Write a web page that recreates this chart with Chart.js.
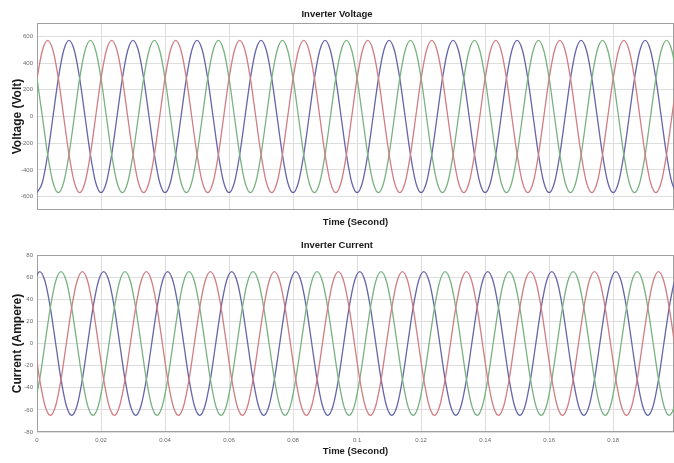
<!DOCTYPE html>
<html><head><meta charset="utf-8">
<script src="https://cdn.jsdelivr.net/npm/chart.js@4.4.0/dist/chart.umd.min.js"></script>
<style>
html,body{margin:0;padding:0;background:#fff;overflow:hidden;}
#w1{position:absolute;left:0;top:0;width:674px;height:230px;}
#w2{position:absolute;left:0;top:230px;width:674px;height:233px;}
</style></head><body>
<div id="w1"><canvas id="c1"></canvas></div>
<div id="w2"><canvas id="c2"></canvas></div>
<script>
// ---- Inverter voltage: sample times (s) and phase values (V)
const tV = [
0,0.00167,0.00333,0.005,0.00667,0.00833,0.01,0.01167,0.01333,0.015,0.01667,0.01833,
0.02,0.02167,0.02333,0.025,0.02667,0.02833,0.03,0.03167,0.03333,0.035,0.03667,0.03833,
0.04,0.04167,0.04333,0.045,0.04667,0.04833,0.05,0.05167,0.05333,0.055,0.05667,0.05833,
0.06,0.06167,0.06333,0.065,0.06667,0.06833,0.07,0.07167,0.07333,0.075,0.07667,0.07833,
0.08,0.08167,0.08333,0.085,0.08667,0.08833,0.09,0.09167,0.09333,0.095,0.09667,0.09833,
0.1,0.10167,0.10333,0.105,0.10667,0.10833,0.11,0.11167,0.11333,0.115,0.11667,0.11833,
0.12,0.12167,0.12333,0.125,0.12667,0.12833,0.13,0.13167,0.13333,0.135,0.13667,0.13833,
0.14,0.14167,0.14333,0.145,0.14667,0.14833,0.15,0.15167,0.15333,0.155,0.15667,0.15833,
0.16,0.16167,0.16333,0.165,0.16667,0.16833,0.17,0.17167,0.17333,0.175,0.17667,0.17833,
0.18,0.18167,0.18333,0.185,0.18667,0.18833,0.19,0.19167,0.19333,0.195,0.19667,0.19833,
0.2];
const vRed = [
285,494,570,494,285,0,-285,-494,-570,-494,-285,0,
285,494,570,494,285,0,-285,-494,-570,-494,-285,0,
285,494,570,494,285,0,-285,-494,-570,-494,-285,0,
285,494,570,494,285,0,-285,-494,-570,-494,-285,0,
285,494,570,494,285,0,-285,-494,-570,-494,-285,0,
285,494,570,494,285,0,-285,-494,-570,-494,-285,0,
285,494,570,494,285,0,-285,-494,-570,-494,-285,0,
285,494,570,494,285,0,-285,-494,-570,-494,-285,0,
285,494,570,494,285,0,-285,-494,-570,-494,-285,0,
285,494,570,494,285,0,-285,-494,-570,-494,-285,0,
285];
const vBlue = [
-570,-494,-285,0,285,494,570,494,285,0,-285,-494,
-570,-494,-285,0,285,494,570,494,285,0,-285,-494,
-570,-494,-285,0,285,494,570,494,285,0,-285,-494,
-570,-494,-285,0,285,494,570,494,285,0,-285,-494,
-570,-494,-285,0,285,494,570,494,285,0,-285,-494,
-570,-494,-285,0,285,494,570,494,285,0,-285,-494,
-570,-494,-285,0,285,494,570,494,285,0,-285,-494,
-570,-494,-285,0,285,494,570,494,285,0,-285,-494,
-570,-494,-285,0,285,494,570,494,285,0,-285,-494,
-570,-494,-285,0,285,494,570,494,285,0,-285,-494,
-570];
const vGreen = [
285,0,-285,-494,-570,-494,-285,0,285,494,570,494,
285,0,-285,-494,-570,-494,-285,0,285,494,570,494,
285,0,-285,-494,-570,-494,-285,0,285,494,570,494,
285,0,-285,-494,-570,-494,-285,0,285,494,570,494,
285,0,-285,-494,-570,-494,-285,0,285,494,570,494,
285,0,-285,-494,-570,-494,-285,0,285,494,570,494,
285,0,-285,-494,-570,-494,-285,0,285,494,570,494,
285,0,-285,-494,-570,-494,-285,0,285,494,570,494,
285,0,-285,-494,-570,-494,-285,0,285,494,570,494,
285,0,-285,-494,-570,-494,-285,0,285,494,570,494,
285];

// ---- Inverter current: sample times (s) and phase values (A)
const tI = [-0.00083,
0.00083,0.0025,0.00417,0.00583,0.0075,0.00917,0.01083,0.0125,0.01417,0.01583,0.0175,0.01917,
0.02083,0.0225,0.02417,0.02583,0.0275,0.02917,0.03083,0.0325,0.03417,0.03583,0.0375,0.03917,
0.04083,0.0425,0.04417,0.04583,0.0475,0.04917,0.05083,0.0525,0.05417,0.05583,0.0575,0.05917,
0.06083,0.0625,0.06417,0.06583,0.0675,0.06917,0.07083,0.0725,0.07417,0.07583,0.0775,0.07917,
0.08083,0.0825,0.08417,0.08583,0.0875,0.08917,0.09083,0.0925,0.09417,0.09583,0.0975,0.09917,
0.10083,0.1025,0.10417,0.10583,0.1075,0.10917,0.11083,0.1125,0.11417,0.11583,0.1175,0.11917,
0.12083,0.1225,0.12417,0.12583,0.1275,0.12917,0.13083,0.1325,0.13417,0.13583,0.1375,0.13917,
0.14083,0.1425,0.14417,0.14583,0.1475,0.14917,0.15083,0.1525,0.15417,0.15583,0.1575,0.15917,
0.16083,0.1625,0.16417,0.16583,0.1675,0.16917,0.17083,0.1725,0.17417,0.17583,0.1775,0.17917,
0.18083,0.1825,0.18417,0.18583,0.1875,0.18917,0.19083,0.1925,0.19417,0.19583,0.1975,0.19917,
0.20083];
const iBlue = [56.3,
65,56.3,32.5,0,-32.5,-56.3,-65,-56.3,-32.5,0,32.5,56.3,
65,56.3,32.5,0,-32.5,-56.3,-65,-56.3,-32.5,0,32.5,56.3,
65,56.3,32.5,0,-32.5,-56.3,-65,-56.3,-32.5,0,32.5,56.3,
65,56.3,32.5,0,-32.5,-56.3,-65,-56.3,-32.5,0,32.5,56.3,
65,56.3,32.5,0,-32.5,-56.3,-65,-56.3,-32.5,0,32.5,56.3,
65,56.3,32.5,0,-32.5,-56.3,-65,-56.3,-32.5,0,32.5,56.3,
65,56.3,32.5,0,-32.5,-56.3,-65,-56.3,-32.5,0,32.5,56.3,
65,56.3,32.5,0,-32.5,-56.3,-65,-56.3,-32.5,0,32.5,56.3,
65,56.3,32.5,0,-32.5,-56.3,-65,-56.3,-32.5,0,32.5,56.3,
65,56.3,32.5,0,-32.5,-56.3,-65,-56.3,-32.5,0,32.5,56.3,
65];
const iGreen = [-56.3,
-32.5,0,32.5,56.3,65,56.3,32.5,0,-32.5,-56.3,-65,-56.3,
-32.5,0,32.5,56.3,65,56.3,32.5,0,-32.5,-56.3,-65,-56.3,
-32.5,0,32.5,56.3,65,56.3,32.5,0,-32.5,-56.3,-65,-56.3,
-32.5,0,32.5,56.3,65,56.3,32.5,0,-32.5,-56.3,-65,-56.3,
-32.5,0,32.5,56.3,65,56.3,32.5,0,-32.5,-56.3,-65,-56.3,
-32.5,0,32.5,56.3,65,56.3,32.5,0,-32.5,-56.3,-65,-56.3,
-32.5,0,32.5,56.3,65,56.3,32.5,0,-32.5,-56.3,-65,-56.3,
-32.5,0,32.5,56.3,65,56.3,32.5,0,-32.5,-56.3,-65,-56.3,
-32.5,0,32.5,56.3,65,56.3,32.5,0,-32.5,-56.3,-65,-56.3,
-32.5,0,32.5,56.3,65,56.3,32.5,0,-32.5,-56.3,-65,-56.3,
-32.5];
const iRed = [0,
-32.5,-56.3,-65,-56.3,-32.5,0,32.5,56.3,65,56.3,32.5,0,
-32.5,-56.3,-65,-56.3,-32.5,0,32.5,56.3,65,56.3,32.5,0,
-32.5,-56.3,-65,-56.3,-32.5,0,32.5,56.3,65,56.3,32.5,0,
-32.5,-56.3,-65,-56.3,-32.5,0,32.5,56.3,65,56.3,32.5,0,
-32.5,-56.3,-65,-56.3,-32.5,0,32.5,56.3,65,56.3,32.5,0,
-32.5,-56.3,-65,-56.3,-32.5,0,32.5,56.3,65,56.3,32.5,0,
-32.5,-56.3,-65,-56.3,-32.5,0,32.5,56.3,65,56.3,32.5,0,
-32.5,-56.3,-65,-56.3,-32.5,0,32.5,56.3,65,56.3,32.5,0,
-32.5,-56.3,-65,-56.3,-32.5,0,32.5,56.3,65,56.3,32.5,0,
-32.5,-56.3,-65,-56.3,-32.5,0,32.5,56.3,65,56.3,32.5,0,
-32.5];

// ---- axis ticks
const xTicks = [0,0.02,0.04,0.06,0.08,0.1,0.12,0.14,0.16,0.18];
const xTickLabels = ['0','0.02','0.04','0.06','0.08','0.1','0.12','0.14','0.16','0.18'];
const yTicksV = [-600,-400,-200,0,200,400,600];
const yTicksI = [-80,-60,-40,-20,0,20,40,60,80];

const RED = 'rgb(208,126,132)', BLUE = 'rgb(102,102,168)', GREEN = 'rgb(122,178,128)';
const SANS = "'Liberation Sans',Arial,sans-serif";
const GRID = '#dedede';

const framePlugin = {
  id: 'frame',
  beforeDatasetsDraw(chart) {
    const {ctx, chartArea: a} = chart;
    ctx.save();
    ctx.strokeStyle = '#a0a0a0';
    ctx.lineWidth = 1;
    ctx.strokeRect(a.left + 0.5, a.top + 0.5, a.right - a.left - 1, a.bottom - a.top - 1);
    ctx.restore();
  }
};

function ds(t, v, color) {
  return {
    data: t.map((x, i) => ({x: x, y: v[i]})),
    borderColor: color, borderWidth: 1.3, pointRadius: 0,
    cubicInterpolationMode: 'monotone', fill: false
  };
}

function makeChart(id, cfg) {
  return new Chart(document.getElementById(id), {
    type: 'line',
    data: {datasets: cfg.datasets},
    plugins: [framePlugin],
    options: {
      responsive: true, maintainAspectRatio: false, animation: false,
      layout: {padding: 0},
      plugins: {
        legend: {display: false}, tooltip: {enabled: false},
        title: {display: true, text: cfg.title, color: '#1a1a1a',
          font: {family: SANS, size: 9.5, weight: 'bold'},
          padding: cfg.titlePad}
      },
      scales: {
        x: {
          type: 'linear', min: 0, max: 0.199,
          afterBuildTicks: s => { s.ticks = xTicks.map(v => ({value: v})); },
          afterFit: s => { s.height = cfg.xHeight; },
          grid: {color: GRID, drawTicks: false, lineWidth: 1},
          border: {display: false},
          ticks: {display: cfg.xLabels, autoSkip: false, maxRotation: 0, padding: 5,
            color: '#6a6a6a', font: {family: SANS, size: 6},
            callback: (v, i) => xTickLabels[i]},
          title: {display: true, text: 'Time (Second)', color: '#1a1a1a',
            font: {family: SANS, size: 9.5, weight: 'bold'},
            padding: {top: 0, bottom: cfg.xTitlePad}}
        },
        y: {
          min: cfg.yMin, max: cfg.yMax,
          afterBuildTicks: s => { s.ticks = cfg.yTicks.map(v => ({value: v})); },
          afterFit: s => { s.width = 37; },
          grid: {color: GRID, drawTicks: false, lineWidth: 1},
          border: {display: false},
          ticks: {padding: 4, color: '#6a6a6a', font: {family: SANS, size: 6},
            callback: v => String(v)},
          title: {display: true, text: cfg.yTitle, color: '#1a1a1a',
            font: {family: SANS, size: 12, weight: 'bold'},
            padding: {top: 10, bottom: 0}}
        }
      }
    }
  });
}

makeChart('c1', {
  title: 'Inverter Voltage', titlePad: {top: 8.3, bottom: 3.3},
  xHeight: 20, xLabels: false, xTitlePad: 2.3,
  yMin: -700, yMax: 700, yTicks: yTicksV, yTitle: 'Voltage (Volt)',
  datasets: [ds(tV, vRed, RED), ds(tV, vGreen, GREEN), ds(tV, vBlue, BLUE)]
});
makeChart('c2', {
  title: 'Inverter Current', titlePad: {top: 9.3, bottom: 4.3},
  xHeight: 31, xLabels: true, xTitlePad: 5.6,
  yMin: -80, yMax: 80, yTicks: yTicksI, yTitle: 'Current (Ampere)',
  datasets: [ds(tI, iRed, RED), ds(tI, iGreen, GREEN), ds(tI, iBlue, BLUE)]
});
</script>
</body></html>
